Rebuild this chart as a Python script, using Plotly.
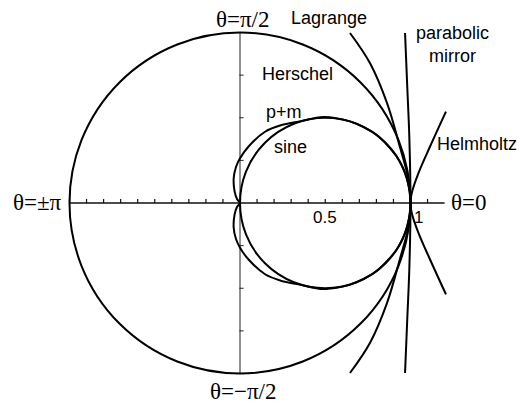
import plotly.graph_objects as go

# Upper-half samples of each condition curve (the figure is symmetric about theta=0)
lagrange_x = [1.0, 0.985, 0.938, 0.862, 0.762, 0.645]
lagrange_y = [0.0, 0.15, 0.328, 0.587, 0.821, 0.997]

parabolic_x = [1.0, 0.993, 0.981, 0.968]
parabolic_y = [0.0, 0.389, 0.682, 0.997]

helmholtz_x = [1.0, 1.007, 1.046, 1.114, 1.208]
helmholtz_y = [0.0, 0.057, 0.174, 0.33, 0.536]

# p+m curve: from the origin through the small lobe, over the top, down to theta=0
pm_x = [0.0, -0.017, -0.032, -0.037, -0.024, 0.0, 0.049, 0.147, 0.244, 0.342, 0.489, 0.65, 0.80, 0.92, 0.98, 1.0]
pm_y = [0.0, 0.022, 0.07, 0.145, 0.21, 0.262, 0.33, 0.418, 0.457, 0.477, 0.505, 0.477, 0.40, 0.271, 0.14, 0.0]

# Herschel: unit circle; sine: circle of diameter 1 through the origin
herschel_radius = 1.0
sine_diameter = 1.0

# axes and ticks
x_axis_ends = [-1.0, 1.2]
y_axis_ends = [-1.0, 1.0]
x_ticks = [-1.0, -0.9, -0.8, -0.7, -0.6, -0.5, -0.4, -0.3, -0.2, -0.1,
           0.1, 0.2, 0.3, 0.4, 0.5, 0.6, 0.7, 0.8, 0.9, 1.0, 1.1]
y_ticks = [-0.75, -0.5, -0.25, 0.25, 0.5, 0.75]
x_tick_labels = {0.5: "0.5", 1.0: "1"}

SCALE = 170.5   # pixels per unit
OX, OY = 240, 203  # pixel position of the origin
W, H = 519, 405


def px(v):
    return v / SCALE


def full_curve(xs, ys):
    # lower half (reflected, reversed) followed by the upper half
    low_x = list(reversed(xs))
    low_y = [-v for v in reversed(ys)]
    return low_x[:-1] + list(xs), low_y[:-1] + list(ys)


def full_loop(xs, ys):
    # upper half runs origin -> (1,0); continue back along the lower half
    low_x = list(reversed(xs))[1:]
    low_y = [-v for v in reversed(ys)][1:]
    return list(xs) + low_x, list(ys) + low_y


fig = go.Figure()

line_style = dict(color="black", width=2)

# horizontal axis
fig.add_trace(go.Scatter(x=x_axis_ends, y=[0, 0], mode="lines",
                         line=dict(color="#111", width=1.5), hoverinfo="skip"))
fig.add_trace(go.Scatter(x=x_ticks, y=[px(2)] * len(x_ticks), mode="markers",
                         marker=dict(symbol="line-ns", size=3,
                                     line=dict(color="#111", width=1.2)),
                         hoverinfo="skip"))
# vertical axis
fig.add_trace(go.Scatter(x=[0, 0], y=y_axis_ends, mode="lines",
                         line=dict(color="#222", width=1), hoverinfo="skip"))
fig.add_trace(go.Scatter(x=[px(1.5)] * len(y_ticks), y=y_ticks, mode="markers",
                         marker=dict(symbol="line-ew", size=3,
                                     line=dict(color="#222", width=1)),
                         hoverinfo="skip"))

# circles
r = herschel_radius
fig.add_shape(type="circle", xref="x", yref="y", x0=-r, x1=r, y0=-r, y1=r,
              line=line_style)
d = sine_diameter
fig.add_shape(type="circle", xref="x", yref="y", x0=0, x1=d, y0=-d / 2, y1=d / 2,
              line=line_style)

for xs, ys in [(lagrange_x, lagrange_y), (parabolic_x, parabolic_y),
               (helmholtz_x, helmholtz_y)]:
    fx, fy = full_curve(xs, ys)
    fig.add_trace(go.Scatter(x=fx, y=fy, mode="lines", line_shape="spline",
                             line=line_style, hoverinfo="skip"))

fx, fy = full_loop(pm_x, pm_y)
fig.add_trace(go.Scatter(x=fx, y=fy, mode="lines",
                         line=dict(color="black", width=2, shape="spline", smoothing=0.8),
                         hoverinfo="skip"))

serif = dict(family="Liberation Serif", size=23, color="black")
sans = dict(family="Liberation Sans", size=18, color="black")
num_font = dict(family="Liberation Sans", size=17, color="black")


def note(text, x, y, font, xanchor="left"):
    fig.add_annotation(text=text, x=x, y=y, xref="x", yref="y", showarrow=False,
                       font=font, xanchor=xanchor, yanchor="middle")


def to_data(pxx, pyy):
    return (pxx - OX) / SCALE, (OY - pyy) / SCALE


note("θ=π/2", *to_data(243, 19), serif, "center")
note("θ=−π/2", *to_data(243, 391), serif, "center")
note("θ=±π", *to_data(64, 202), serif, "right")
note("θ=0", *to_data(449, 202), serif, "left")

for val, lab in x_tick_labels.items():
    xoff = 0.0 if val != 1.0 else px(8)
    fig.add_annotation(text=lab, x=val + xoff, y=-px(14), xref="x", yref="y",
                       showarrow=False, font=num_font,
                       xanchor="center", yanchor="middle")

note("Lagrange", *to_data(289, 18), sans)
note("parabolic<br>mirror", *to_data(414, 44), sans)
note("Herschel", *to_data(260, 74), sans)
note("p+m", *to_data(264, 112), sans)
note("sine", *to_data(272, 147), sans)
note("Helmholtz", *to_data(435, 144), sans)

x0 = -OX / SCALE
x1 = (W - OX) / SCALE
y1 = OY / SCALE
y0 = (OY - H) / SCALE

fig.update_layout(
    width=W, height=H, margin=dict(l=0, r=0, t=0, b=0),
    paper_bgcolor="white", plot_bgcolor="white", showlegend=False,
    xaxis=dict(range=[x0, x1], visible=False, fixedrange=True),
    yaxis=dict(range=[y0, y1], visible=False, fixedrange=True),
)

fig.write_html("out.html")
